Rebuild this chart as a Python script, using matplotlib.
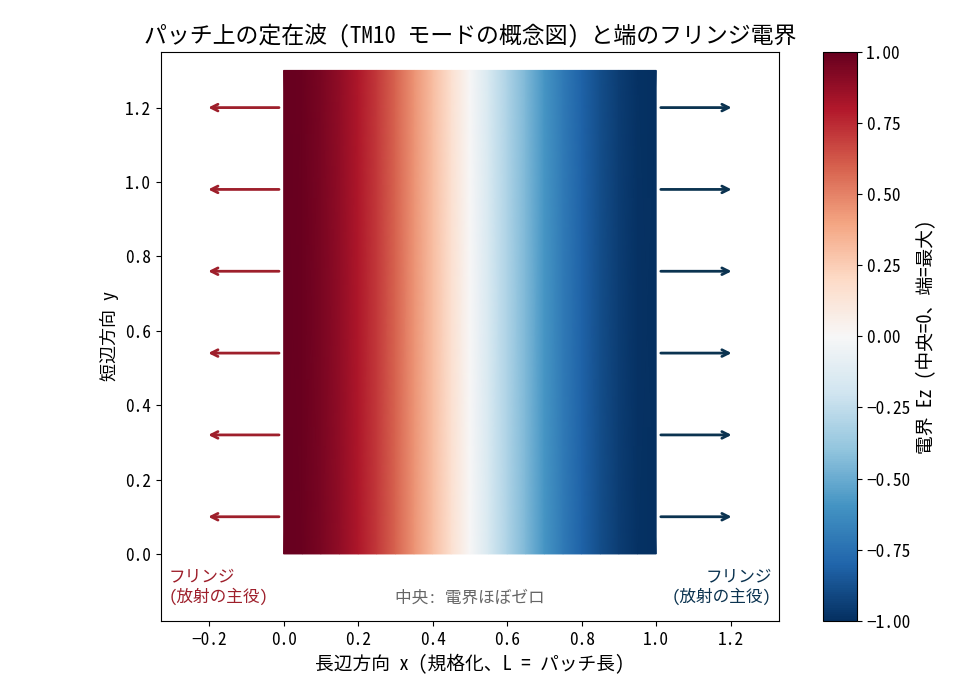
import numpy as np
import matplotlib.pyplot as plt
import matplotlib as mpl

mpl.rcParams["font.family"] = ["Noto Sans Mono CJK JP", "Noto Sans CJK JP", "DejaVu Sans"]
mpl.rcParams["font.size"] = 12
mpl.rcParams["xtick.labelsize"] = 12.5
mpl.rcParams["ytick.labelsize"] = 12.5
mpl.rcParams["axes.unicode_minus"] = True

x_nodes = [0.0, 0.05, 0.1, 0.15, 0.2, 0.25, 0.3, 0.35, 0.4, 0.45, 0.5,
           0.55, 0.6, 0.65, 0.7, 0.75, 0.8, 0.85, 0.9, 0.95, 1.0]
ez_vals = [1.0, 0.99, 0.95, 0.89, 0.81, 0.71, 0.59, 0.45, 0.31, 0.16, 0.0,
           -0.16, -0.31, -0.45, -0.59, -0.71, -0.81, -0.89, -0.95, -0.99, -1.0]
y_nodes = [0.0, 1.3]

# Fringe arrow rows
arrow_y = [0.10, 0.32, 0.54, 0.76, 0.98, 1.20]

RED = "#9e1f2b"
BLUE = "#0b3350"

fig, ax = plt.subplots(figsize=(9.8, 7.0), dpi=100)
fig.subplots_adjust(left=0.164, right=0.795, bottom=0.113, top=0.926)

C = np.array([ez_vals, ez_vals])
mesh = ax.pcolormesh(x_nodes, y_nodes, C, cmap="RdBu_r", vmin=-1, vmax=1,
                     shading="gouraud")

for y in arrow_y:
    ax.annotate("", xy=(-0.21, y), xytext=(-0.005, y),
                arrowprops=dict(arrowstyle="->", color=RED, lw=2.0))
    ax.annotate("", xy=(1.21, y), xytext=(1.005, y),
                arrowprops=dict(arrowstyle="->", color=BLUE, lw=2.0))

ax.text(-0.31, -0.09, "フリンジ\n(放射の主役)", color=RED, ha="left", va="center")
ax.text(1.31, -0.09, "フリンジ\n(放射の主役)", color=BLUE, ha="right", va="center",
        multialignment="right")
ax.text(0.5, -0.118, "中央: 電界ほぼゼロ", color="#666666", ha="center", va="center")

ax.set_xlim(-0.33, 1.33)
ax.set_ylim(-0.18, 1.35)
ax.set_xticks([-0.2, 0.0, 0.2, 0.4, 0.6, 0.8, 1.0, 1.2])
ax.set_yticks([0.0, 0.2, 0.4, 0.6, 0.8, 1.0, 1.2])
ax.set_xlabel("長辺方向 x (規格化、L = パッチ長)", fontsize=13.5)
ax.set_ylabel("短辺方向 y", fontsize=13)
ax.set_title("パッチ上の定在波 (TM10 モードの概念図) と端のフリンジ電界", fontsize=16.5)

cax = fig.add_axes([0.840, 0.113, 0.034, 0.813])
cb = fig.colorbar(mesh, cax=cax)
cb.set_ticks([1.0, 0.75, 0.5, 0.25, 0.0, -0.25, -0.5, -0.75, -1.0])
cb.set_label("電界 Ez (中央=0、端=最大)", fontsize=13.5)

fig.savefig("out.png", dpi=100)
